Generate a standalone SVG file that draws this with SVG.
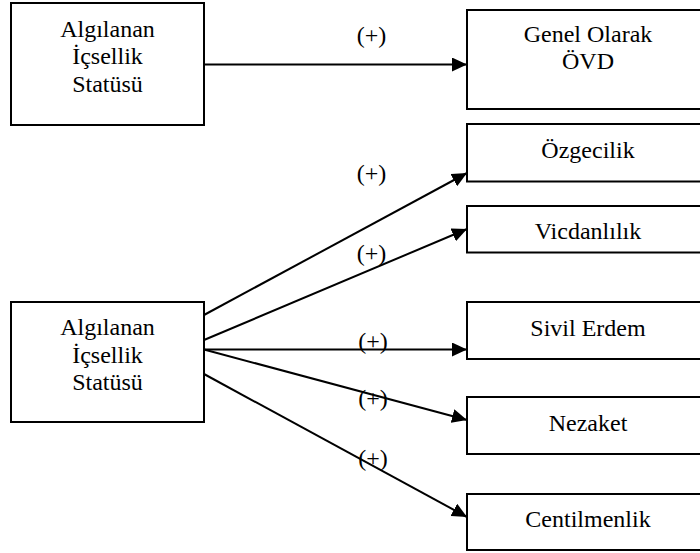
<svg xmlns="http://www.w3.org/2000/svg" width="700" height="553" viewBox="0 0 700 553">
<style>
.box{fill:#fff;stroke:#000;stroke-width:2}
.t{font-family:'Liberation Serif','Times New Roman',Tinos,'Noto Serif','DejaVu Serif',serif;font-size:24px;fill:#000;text-anchor:middle}
.c{stroke:#000;stroke-width:2;fill:none;marker-end:url(#ah)}
</style>
<defs>
<marker id="ah" markerUnits="userSpaceOnUse" markerWidth="15" markerHeight="14" refX="15" refY="7" orient="auto" viewBox="0 0 15 14">
<path d="M0,0 L15,7 L0,14 z" fill="#000"/>
</marker>
</defs>
<rect width="700" height="553" fill="#fff"/>
<g id="connectors">
<line class="c" x1="204" y1="64.5" x2="467" y2="64.5"/>
<line class="c" x1="204" y1="315" x2="467" y2="173"/>
<line class="c" x1="204" y1="340" x2="467" y2="229"/>
<line class="c" x1="204" y1="349.5" x2="467" y2="349.5"/>
<line class="c" x1="204" y1="349.5" x2="467" y2="420"/>
<line class="c" x1="204" y1="374" x2="467" y2="517"/>
</g>
<g id="labels" font-family="Liberation Serif, serif">
<text class="t" x="371.5" y="43">(+)</text>
<text class="t" x="371.5" y="181">(+)</text>
<text class="t" x="371.5" y="261">(+)</text>
<text class="t" x="373" y="349">(+)</text>
<text class="t" x="373" y="406">(+)</text>
<text class="t" x="373" y="466">(+)</text>
</g>
<g id="src1">
<rect class="box" x="11" y="3" width="193" height="122"/>
<text class="t" x="107.5" y="36.5">Algılanan</text>
<text class="t" x="107.5" y="64">İçsellik</text>
<text class="t" x="107.5" y="91.5">Statüsü</text>
</g>
<g id="src2">
<rect class="box" x="11" y="302" width="193" height="120"/>
<text class="t" x="107.5" y="335">Algılanan</text>
<text class="t" x="107.5" y="362.5">İçsellik</text>
<text class="t" x="107.5" y="390">Statüsü</text>
</g>
<g id="genel">
<rect class="box" x="467" y="10" width="245" height="99"/>
<text class="t" x="588" y="41.5">Genel Olarak</text>
<text class="t" x="588" y="69">ÖVD</text>
</g>
<g id="ozgecilik">
<rect class="box" x="467" y="124" width="245" height="57.5"/>
<text class="t" x="588" y="157.5">Özgecilik</text>
</g>
<g id="vicdanlilik">
<rect class="box" x="467" y="206" width="245" height="46.5"/>
<text class="t" x="588" y="239">Vicdanlılık</text>
</g>
<g id="sivil">
<rect class="box" x="467" y="302" width="245" height="57"/>
<text class="t" x="588" y="336">Sivil Erdem</text>
</g>
<g id="nezaket">
<rect class="box" x="467" y="397" width="245" height="57"/>
<text class="t" x="588" y="431">Nezaket</text>
</g>
<g id="centilmenlik">
<rect class="box" x="467" y="494" width="245" height="56"/>
<text class="t" x="588" y="527">Centilmenlik</text>
</g>
</svg>
